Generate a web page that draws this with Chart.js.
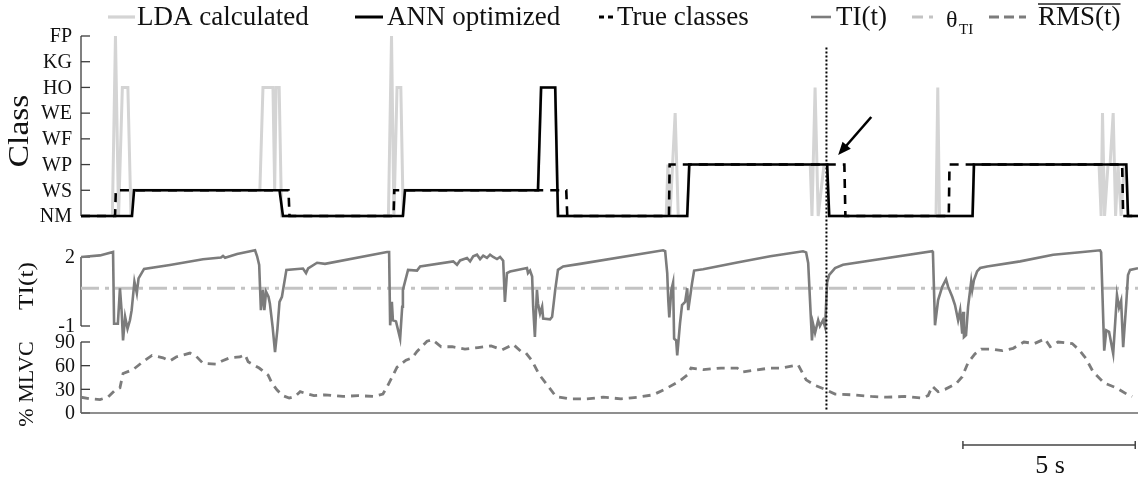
<!DOCTYPE html>
<html>
<head>
<meta charset="utf-8">
<script src="https://cdn.jsdelivr.net/npm/chart.js@4.4.1/dist/chart.umd.min.js"></script>
<style>
  html, body { margin: 0; padding: 0; background: #fff; }
  canvas { display: block; }
</style>
</head>
<body>
<canvas id="chart" width="1145" height="480"></canvas>
<script>
// ---- class labels (index = class code) ----
const classNames = ['NM', 'WS', 'WP', 'WF', 'WE', 'HO', 'KG', 'FP'];

// ---- LDA classifier output (time in s, class code) ----
const ldaTime = [0.00, 0.91, 1.00, 1.09, 1.20, 1.36, 1.45, 1.51, 5.19, 5.28, 5.57, 5.62, 5.66, 5.75, 5.82,
  8.92, 9.01, 9.08, 9.17, 9.28, 9.35, 9.40, 13.26, 13.35, 13.76, 13.84, 16.98, 17.03, 17.09, 17.24, 17.33,
  17.59, 17.65, 21.16, 21.21, 21.30, 21.39, 21.56, 21.65, 21.71, 24.81, 24.86, 24.91, 25.87, 25.91,
  29.54, 29.60, 29.64, 29.70, 29.80, 29.86, 29.95, 30.02, 30.09, 30.18, 30.27, 30.33, 30.38, 30.67];
const ldaClass = [0, 0, 7, 0, 5, 5, 0, 1, 1, 5, 5, 1, 5, 5, 0,
  0, 7, 0, 5, 5, 0, 1, 1, 5, 5, 0, 0, 2, 0, 4, 0,
  0, 2, 2, 0, 5, 0, 2, 2, 0, 0, 5, 0, 0, 2,
  2, 0, 4, 0, 2, 2, 4, 0, 2, 0, 2, 2, 0, 0];

// ---- ANN optimized output ----
const annTime = [0.00, 1.48, 1.54, 5.76, 5.86, 9.34, 9.40, 13.26, 13.35, 13.76, 13.84, 17.59, 17.65,
  21.65, 21.71, 25.87, 25.91, 30.33, 30.38, 30.67];
const annClass = [0, 0, 1, 1, 0, 0, 1, 1, 5, 5, 0, 0, 2, 2, 0, 0, 2, 2, 0, 0];

// ---- true classes ----
const trueTime = [0.00, 0.99, 1.01, 6.02, 6.05, 9.07, 9.09, 14.08, 14.11, 17.06, 17.08, 22.15, 22.18,
  25.18, 25.20, 30.21, 30.24, 30.67];
const trueClass = [0, 0, 1, 1, 0, 0, 1, 1, 0, 0, 2, 2, 0, 0, 2, 2, 0, 0];

// ---- transition index TI(t) ----
const tiTime = [0.00, 0.55, 0.93, 0.96, 1.07, 1.13, 1.18, 1.22, 1.28, 1.35, 1.42, 1.47, 1.55, 1.62, 1.67, 1.83,
  2.58, 3.54, 4.06, 4.12, 4.18, 4.53, 5.05, 5.11, 5.17, 5.22, 5.28, 5.32, 5.37, 5.44, 5.48, 5.56, 5.63, 5.70,
  5.76, 5.83, 5.96, 6.44, 6.53, 6.59, 6.85, 7.08, 8.88, 8.94, 8.97, 9.02, 9.05, 9.14, 9.26, 9.32, 9.34, 9.49,
  9.75, 9.84, 10.80, 10.91, 11.00, 11.20, 11.29, 11.38, 11.49, 11.58, 11.67, 11.78, 11.87, 11.96, 12.07,
  12.16, 12.25, 12.30, 12.36, 12.45, 12.94, 12.97, 13.03, 13.09, 13.12, 13.17, 13.23, 13.26, 13.32, 13.38,
  13.41, 13.61, 13.67, 13.76, 13.84, 13.99, 14.48, 16.89, 16.95, 17.01, 17.04, 17.07, 17.13, 17.18, 17.21,
  17.27, 17.30, 17.38, 17.44, 17.53, 17.59, 17.62, 17.73, 17.79, 18.05, 19.04, 20.00, 20.95, 21.04, 21.10,
  21.21, 21.24, 21.30, 21.39, 21.44, 21.53, 21.59, 21.65, 21.71, 21.88, 22.11, 24.70, 24.72, 24.78, 24.87,
  24.99, 25.10, 25.16, 25.28, 25.36, 25.45, 25.51, 25.57, 25.60, 25.62, 25.68, 25.74, 25.83, 25.86, 25.91,
  26.00, 26.09, 26.29, 27.25, 28.21, 28.99, 29.57, 29.60, 29.69, 29.75, 29.83, 29.95, 30.06, 30.12, 30.18,
  30.24, 30.33, 30.38, 30.44, 30.67];
const tiValue = [2.00, 2.07, 2.22, -0.90, -0.90, 0.64, -0.38, -1.63, -0.60, -1.12, -0.75, -0.31, 0.93, 0.42, 1.07, 1.48,
  1.65, 1.90, 1.98, 2.05, 1.97, 2.13, 2.29, 2.03, 1.66, -0.31, 0.57, -0.31, 0.49, 0.27, -0.02, -1.04, -2.14, -1.12,
  0.05, 0.27, 1.44, 1.50, 1.30, 1.50, 1.75, 1.70, 2.22, 2.22, -0.97, 0.05, -0.75, -0.80, -1.55, -0.16, 0.57, 1.44,
  1.41, 1.59, 1.81, 1.66, 1.85, 1.96, 1.81, 2.03, 2.10, 1.91, 2.06, 1.96, 2.10, 2.00, 1.91,
  2.00, 1.84, 0.05, 1.30, 1.37, 1.52, 1.30, 1.41, 1.15, -0.16, -1.48, 0.57, -0.02, -0.46, -0.16,
  -0.68, -0.71, -0.60, 0.57, 1.44, 1.59, 1.70, 2.29, 2.25, 1.30, 0.13, -0.63, 0.57, 0.89, -1.55,
  -1.63, -2.28, -0.90, -0.09, 0.05, 0.64, -0.31, 0.86, 1.41, 1.47, 1.76, 2.03, 2.25, 2.20, 1.74,
  -1.63, -0.90, -1.30, -0.75, -1.00, -0.75, -1.05, 0.90, 1.22, 1.52, 1.66, 2.25, 2.18, -0.97, 0.13,
  0.71, 1.03, 0.71, 0.27, -0.09, -0.75, -0.31, -1.33, -0.38, -1.48, -1.40, -0.16, 0.94, 0.57, 1.00,
  1.37, 1.52, 1.59, 1.81, 2.10, 2.21, 2.29, 2.20, -2.07, -1.19, -1.25, -2.20, 0.35, -0.20, 0.10,
  -1.92, 0.00, 1.22, 1.44, 1.51];
const thetaTI = 0.64;
const tiTicks = [2, -1];

// ---- normalized RMS(t) in % MLVC ----
const rmsTime = [0.00, 0.26, 0.55, 0.78, 0.99, 1.13, 1.22, 1.51, 1.77, 2.06, 2.38, 2.58, 2.76, 3.16, 3.34, 3.54,
  3.92, 4.09, 4.32, 4.61, 4.76, 4.85, 5.17, 5.43, 5.54, 5.69, 5.86, 6.04, 6.21, 6.36, 6.50, 6.76, 7.08, 7.60,
  8.04, 8.50, 8.76, 8.88, 9.02, 9.17, 9.43, 9.61, 9.75, 10.04, 10.19, 10.45, 10.77, 11.14, 11.52, 11.90,
  12.22, 12.54, 12.77, 12.91, 13.09, 13.29, 13.52, 13.78, 14.16, 14.68, 15.15, 15.67, 16.16, 16.60, 16.98,
  17.35, 17.59, 17.70, 18.06, 18.57, 19.04, 19.18, 19.50, 20.00, 20.31, 20.81, 21.04, 21.30, 21.59, 21.88,
  22.40, 22.93, 23.39, 23.91, 24.41, 24.58, 24.70, 24.87, 25.07, 25.39, 25.57, 25.74, 25.94, 26.12, 26.44,
  26.73, 27.05, 27.36, 27.66, 27.97, 28.12, 28.35, 28.76, 28.96, 29.16, 29.37, 29.69, 30.04, 30.38, 30.50];
const rmsValue = [20, 18, 17, 20, 29, 32, 50, 55, 64, 73, 70, 66, 71, 76, 72, 63,
  62, 66, 70, 71, 74, 65, 57, 48, 38, 29, 22, 19, 21, 27, 25, 22, 23, 21,
  22, 21, 24, 33, 45, 58, 67, 70, 78, 91, 93, 84, 84, 81, 83, 85,
  80, 87, 78, 76, 66, 49, 36, 21, 18, 18, 20, 18, 20, 23, 31,
  40, 48, 57, 55, 57, 57, 52, 54, 57, 57, 61, 42, 35, 30, 24,
  23, 21, 20, 21, 19, 22, 34, 27, 30, 37, 46, 64, 75, 81, 81,
  79, 82, 90, 88, 94, 84, 90, 88, 80, 69, 52, 38, 32, 23, 21];
const rmsTicks = [90, 60, 30, 0];

// ---- annotations ----
const timeSpan = [0, 30.67];
const markerTime = 21.63;
const arrowFrom = [22.93, 3.85];   // [time, class]
const arrowTo = [21.97, 2.37];
const scaleBarStart = 25.59;
const scaleBarSeconds = 5;

// ---------------------------------------------------------------
const SERIF = '"Liberation Serif", "Times New Roman", serif';
const FRAME = { left: 81, right: 1138, top: 30, bottom: 413 };

// value range for a hidden axis so that two reference values land on given pixel rows
function rangeFor(vA, pA, vB, pB) {
  const k = (vA - vB) / (pA - pB);
  return { min: vA + (FRAME.bottom - pA) * k, max: vA + (FRAME.top - pA) * k };
}
const classRange = rangeFor(7, 36, 0, 216);
const tiRange = rangeFor(2, 257, -1, 326);
const rmsRange = rangeFor(90, 342, 0, 413);

const pts = (xs, ys) => xs.map((x, i) => ({ x, y: ys[i] }));

function seg(ctx, x1, y1, x2, y2) {
  ctx.beginPath(); ctx.moveTo(x1, y1); ctx.lineTo(x2, y2); ctx.stroke();
}

const panelFrame = {
  id: 'panelFrame',
  beforeDatasetsDraw(chart) {
    const { ctx, chartArea: a, scales: s } = chart;
    const x0 = a.left;
    ctx.save();
    ctx.strokeStyle = '#3c3c3c';
    ctx.lineWidth = 1.3;
    ctx.fillStyle = '#111';
    ctx.textAlign = 'right';
    ctx.textBaseline = 'middle';

    // class axis
    ctx.font = '20px ' + SERIF;
    seg(ctx, x0, s.yC.getPixelForValue(classNames.length - 1), x0, s.yC.getPixelForValue(0));
    classNames.forEach((name, i) => {
      const y = s.yC.getPixelForValue(i);
      seg(ctx, x0, y, x0 + 9, y);
      ctx.fillText(name, x0 - 9, y + 1);
    });

    // TI axis
    seg(ctx, x0, s.yT.getPixelForValue(tiTicks[0]), x0, s.yT.getPixelForValue(tiTicks[tiTicks.length - 1]));
    tiTicks.forEach(v => {
      const y = s.yT.getPixelForValue(v);
      seg(ctx, x0, y, x0 + 9, y);
      ctx.fillText(String(v), x0 - 6, y + 1);
    });

    // RMS axis
    seg(ctx, x0, s.yR.getPixelForValue(rmsTicks[0]), x0, s.yR.getPixelForValue(0));
    rmsTicks.forEach(v => {
      const y = s.yR.getPixelForValue(v);
      seg(ctx, x0, y, x0 + 9, y);
      ctx.fillText(String(v), x0 - 6, y + 1);
    });

    // time axis
    ctx.strokeStyle = '#6a6a6a';
    const yb = s.yR.getPixelForValue(0);
    seg(ctx, x0, yb, a.right, yb);

    // axis titles (rotated, baseline on the right-hand side)
    ctx.textAlign = 'center';
    ctx.textBaseline = 'alphabetic';
    ctx.fillStyle = '#111';
    const vtext = (txt, x, y, font, stretch) => {
      ctx.save(); ctx.translate(x, y); ctx.rotate(-Math.PI / 2); ctx.scale(stretch, 1);
      ctx.font = font; ctx.fillText(txt, 0, 0); ctx.restore();
    };
    vtext('Class', 28, 131, '29px ' + SERIF, 1.15);
    vtext('TI(t)', 33, 286, '22px ' + SERIF, 1.15);
    vtext('% MLVC', 33, 384, '22px ' + SERIF, 1.0);
    ctx.restore();
  },
  afterDatasetsDraw(chart) {
    const { ctx, scales: s } = chart;
    const X = s.x;
    ctx.save();

    // vertical marker
    ctx.strokeStyle = '#000';
    ctx.lineWidth = 2;
    ctx.setLineDash([2, 2]);
    const xm = X.getPixelForValue(markerTime);
    seg(ctx, xm, s.yC.getPixelForValue(6.55), xm, s.yR.getPixelForValue(2));
    ctx.setLineDash([]);

    // arrow
    const ax1 = X.getPixelForValue(arrowFrom[0]), ay1 = s.yC.getPixelForValue(arrowFrom[1]);
    const ax2 = X.getPixelForValue(arrowTo[0]), ay2 = s.yC.getPixelForValue(arrowTo[1]);
    const ang = Math.atan2(ay2 - ay1, ax2 - ax1);
    const hl = 13, hw = 5.5;
    ctx.lineWidth = 2.6;
    seg(ctx, ax1, ay1, ax2 - Math.cos(ang) * (hl - 2), ay2 - Math.sin(ang) * (hl - 2));
    ctx.fillStyle = '#000';
    ctx.beginPath();
    ctx.moveTo(ax2, ay2);
    ctx.lineTo(ax2 - hl * Math.cos(ang) + hw * Math.sin(ang), ay2 - hl * Math.sin(ang) - hw * Math.cos(ang));
    ctx.lineTo(ax2 - hl * Math.cos(ang) - hw * Math.sin(ang), ay2 - hl * Math.sin(ang) + hw * Math.cos(ang));
    ctx.closePath();
    ctx.fill();

    // scale bar
    const sb1 = X.getPixelForValue(scaleBarStart), sb2 = X.getPixelForValue(scaleBarStart + scaleBarSeconds);
    ctx.strokeStyle = '#444';
    ctx.lineWidth = 1.5;
    seg(ctx, sb1, 445, sb2, 445);
    seg(ctx, sb1, 441, sb1, 449);
    seg(ctx, sb2, 441, sb2, 449);
    ctx.fillStyle = '#111';
    ctx.font = '26px ' + SERIF;
    ctx.textAlign = 'center';
    ctx.textBaseline = 'alphabetic';
    ctx.fillText(scaleBarSeconds + ' s', (sb1 + sb2) / 2 + 1, 473);

    // legend
    const ly = 17, lb = 25;
    ctx.font = '27px ' + SERIF;
    ctx.textAlign = 'left';
    const sample = (x1, x2, color, width, dash) => {
      ctx.strokeStyle = color; ctx.lineWidth = width; ctx.setLineDash(dash || []);
      seg(ctx, x1, ly, x2, ly); ctx.setLineDash([]);
    };
    sample(108, 135, '#d4d4d4', 3.2);
    ctx.fillText('LDA calculated', 137, lb);
    sample(355, 383, '#000', 3);
    ctx.fillText('ANN optimized', 387, lb);
    sample(599, 614, '#000', 3, [5, 4]);
    ctx.fillText('True classes', 617, lb);
    sample(811, 831, '#7c7c7c', 2.6);
    ctx.fillText('TI(t)', 836, lb);
    sample(912, 934, '#c3c3c3', 3, [11, 6, 4, 20]);
    ctx.font = '24px ' + SERIF;
    ctx.fillText('\u03B8', 946, lb + 2);
    ctx.font = '15px ' + SERIF;
    ctx.fillText('TI', 959, lb + 9);
    sample(989, 1026, '#7c7c7c', 3, [10, 5]);
    ctx.font = '27px ' + SERIF;
    ctx.fillText('RMS(t)', 1038, lb);
    const rw = ctx.measureText('RMS(t)').width;
    ctx.strokeStyle = '#222';
    ctx.lineWidth = 1.4;
    seg(ctx, 1038, 4, 1038 + rw, 4);
    ctx.restore();
  }
};

new Chart(document.getElementById('chart'), {
  type: 'line',
  data: {
    datasets: [
      { label: 'LDA calculated', data: pts(ldaTime, ldaClass), yAxisID: 'yC',
        borderColor: '#d4d4d4', borderWidth: 3, order: 3 },
      { label: 'ANN optimized', data: pts(annTime, annClass), yAxisID: 'yC',
        borderColor: '#000', borderWidth: 2.6, order: 2 },
      { label: 'True classes', data: pts(trueTime, trueClass), yAxisID: 'yC',
        borderColor: '#000', borderWidth: 2.6, borderDash: [9, 7], order: 1 },
      { label: 'θTI', data: pts(timeSpan, [thetaTI, thetaTI]), yAxisID: 'yT',
        borderColor: '#c3c3c3', borderWidth: 3, borderDash: [18, 6, 4, 6], order: 5 },
      { label: 'TI(t)', data: pts(tiTime, tiValue), yAxisID: 'yT',
        borderColor: '#7c7c7c', borderWidth: 2.6, order: 4 },
      { label: 'RMS(t)', data: pts(rmsTime, rmsValue), yAxisID: 'yR',
        borderColor: '#7c7c7c', borderWidth: 2.8, borderDash: [8, 6], order: 4 }
    ]
  },
  options: {
    responsive: false,
    animation: false,
    events: [],
    layout: { padding: { left: FRAME.left, right: 1145 - FRAME.right, top: FRAME.top, bottom: 480 - FRAME.bottom } },
    elements: { point: { radius: 0 }, line: { tension: 0, fill: false, borderCapStyle: 'butt', borderJoinStyle: 'miter' } },
    plugins: { legend: { display: false }, tooltip: { enabled: false } },
    scales: {
      x: { type: 'linear', min: timeSpan[0], max: timeSpan[1], display: false },
      yC: { type: 'linear', min: classRange.min, max: classRange.max, display: false },
      yT: { type: 'linear', min: tiRange.min, max: tiRange.max, display: false },
      yR: { type: 'linear', min: rmsRange.min, max: rmsRange.max, display: false }
    }
  },
  plugins: [panelFrame]
});
</script>
</body>
</html>
